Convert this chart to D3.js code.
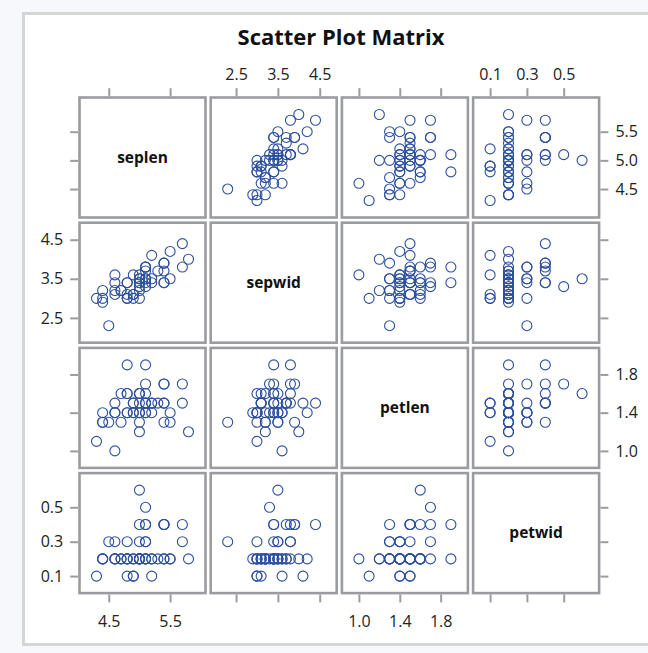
<!DOCTYPE html>
<html>
<head>
<meta charset="utf-8">
<script src="https://cdn.jsdelivr.net/npm/d3@7"></script>
<style>
  body { margin: 0; background: #f6f8fb; }
  svg text { font-family: "Open Sans", "Noto Sans", sans-serif; }
</style>
</head>
<body>
<div id="chart"></div>
<script>
// Iris setosa measurements (cm), one row per flower
const seplen = [5.1,4.9,4.7,4.6,5.0,5.4,4.6,5.0,4.4,4.9,5.4,4.8,4.8,4.3,5.8,5.7,5.4,5.1,5.7,5.1,
                5.4,5.1,4.6,5.1,4.8,5.0,5.0,5.2,5.2,4.7,4.8,5.4,5.2,5.5,4.9,5.0,5.5,4.9,4.4,5.1,
                5.0,4.5,4.4,5.0,5.1,4.8,5.1,4.6,5.3,5.0]
const sepwid = [3.5,3.0,3.2,3.1,3.6,3.9,3.4,3.4,2.9,3.1,3.7,3.4,3.0,3.0,4.0,4.4,3.9,3.5,3.8,3.8,
                3.4,3.7,3.6,3.3,3.4,3.0,3.4,3.5,3.4,3.2,3.1,3.4,4.1,4.2,3.1,3.2,3.5,3.6,3.0,3.4,
                3.5,2.3,3.2,3.5,3.8,3.0,3.8,3.2,3.7,3.3]
const petlen = [1.4,1.4,1.3,1.5,1.4,1.7,1.4,1.5,1.4,1.5,1.5,1.6,1.4,1.1,1.2,1.5,1.3,1.4,1.7,1.5,
                1.7,1.5,1.0,1.7,1.9,1.6,1.6,1.5,1.4,1.6,1.6,1.5,1.5,1.4,1.5,1.2,1.3,1.4,1.3,1.5,
                1.3,1.3,1.3,1.6,1.9,1.4,1.6,1.4,1.5,1.4]
const petwid = [0.2,0.2,0.2,0.2,0.2,0.4,0.3,0.2,0.2,0.1,0.2,0.2,0.1,0.1,0.2,0.4,0.4,0.3,0.3,0.3,
                0.2,0.4,0.2,0.5,0.2,0.2,0.4,0.2,0.2,0.2,0.2,0.4,0.1,0.2,0.2,0.2,0.2,0.1,0.2,0.2,
                0.3,0.3,0.2,0.6,0.4,0.3,0.2,0.2,0.2,0.2]

const varNames = ["seplen", "sepwid", "petlen", "petwid"]
const values = [seplen, sepwid, petlen, petwid]
// ticks when the variable is on the horizontal / vertical axis
const xTicks = [[4.5, 5.5], [2.5, 3.5, 4.5], [1.0, 1.4, 1.8], [0.1, 0.3, 0.5]]
const yTicks = [[4.5, 5.0, 5.5], [2.5, 3.5, 4.5], [1.0, 1.4, 1.8], [0.1, 0.3, 0.5]]

const width = 648
const height = 653
const n = varNames.length
const cw = 126, ch = 120, pad = 17
const borderColor = "#9a9c9f"
const markerColor = "#2c4f9f"

const svg = d3.select("#chart")
    .append("svg")
    .attr("width", width)
    .attr("height", height)

// outer frame
svg.append("rect")
    .attr("x", 23.5).attr("y", 13.5)
    .attr("width", 700).attr("height", 631)
    .attr("fill", "white")
    .attr("stroke", "#d4d5d6")
    .attr("stroke-width", 3)

svg.append("text")
    .attr("x", 341).attr("y", 45)
    .attr("text-anchor", "middle")
    .attr("font-size", 22)
    .attr("font-weight", "bold")
    .attr("fill", "#111")
    .text("Scatter Plot Matrix")

const colPos = d3.scaleBand().domain(d3.range(n)).range([79.5, 79.5 + 4 * cw + 3 * 5.2]).paddingInner(5.2 / (cw + 5.2))
const rowPos = d3.scaleBand().domain(d3.range(n)).range([97.5, 97.5 + 4 * ch + 3 * 5.2]).paddingInner(5.2 / (ch + 5.2))

function domainOf(i) {
    const ext = d3.extent(values[i])
    const t = xTicks[i].concat(yTicks[i])
    return [Math.min(ext[0], d3.min(t)), Math.max(ext[1], d3.max(t))]
}

const xScales = varNames.map((v, i) => d3.scaleLinear().domain(domainOf(i))
    .range([colPos(i) + pad, colPos(i) + cw - pad]))
const yScales = varNames.map((v, j) => d3.scaleLinear().domain(domainOf(j))
    .range([rowPos(j) + ch - pad, rowPos(j) + pad]))

// panels
for (let j = 0; j < n; j++) {
    for (let i = 0; i < n; i++) {
        const g = svg.append("g")
        if (i == j) {
            g.append("text")
                .attr("x", colPos(i) + cw / 2)
                .attr("y", rowPos(j) + ch / 2 + 5)
                .attr("text-anchor", "middle")
                .attr("font-size", 15.5)
                .attr("font-weight", "bold")
                .attr("fill", "#111")
                .text(varNames[i])
        } else {
            g.selectAll("circle")
                .data(d3.range(values[0].length))
                .join("circle")
                .attr("cx", k => xScales[i](values[i][k]))
                .attr("cy", k => yScales[j](values[j][k]))
                .attr("r", 5)
                .attr("fill", "none")
                .attr("stroke", markerColor)
                .attr("stroke-width", 1.1)
        }
        g.append("rect")
            .attr("x", colPos(i)).attr("y", rowPos(j))
            .attr("width", cw).attr("height", ch)
            .attr("fill", "none")
            .attr("stroke", borderColor)
            .attr("stroke-width", 2.6)
    }
}

// axes: labels alternate between the sides
function styleAxis(g) {
    g.select(".domain").remove()
    g.selectAll(".tick line").attr("stroke", borderColor).attr("stroke-width", 2)
    g.selectAll(".tick text").attr("font-size", 16).attr("fill", "#222")
}
const fmt = d3.format(".1f")
const top0 = rowPos(0) - 1.3, bottom0 = rowPos(n - 1) + ch + 1.3
const left0 = colPos(0) - 1.3, right0 = colPos(n - 1) + cw + 1.3

for (let i = 0; i < n; i++) {
    const topLabel = i % 2 == 1, leftLabel = i % 2 == 1
    svg.append("g").attr("transform", `translate(0,${top0})`)
        .call(d3.axisTop(xScales[i]).tickValues(xTicks[i]).tickSize(8).tickPadding(8)
            .tickFormat(topLabel ? fmt : ""))
        .call(styleAxis)
    svg.append("g").attr("transform", `translate(0,${bottom0})`)
        .call(d3.axisBottom(xScales[i]).tickValues(xTicks[i]).tickSize(8).tickPadding(13)
            .tickFormat(topLabel ? "" : fmt))
        .call(styleAxis)
    svg.append("g").attr("transform", `translate(${left0},0)`)
        .call(d3.axisLeft(yScales[i]).tickValues(yTicks[i]).tickSize(8).tickPadding(7)
            .tickFormat(leftLabel ? fmt : ""))
        .call(styleAxis)
    svg.append("g").attr("transform", `translate(${right0},0)`)
        .call(d3.axisRight(yScales[i]).tickValues(yTicks[i]).tickSize(8).tickPadding(7)
            .tickFormat(leftLabel ? "" : fmt))
        .call(styleAxis)
}
</script>
</body>
</html>
